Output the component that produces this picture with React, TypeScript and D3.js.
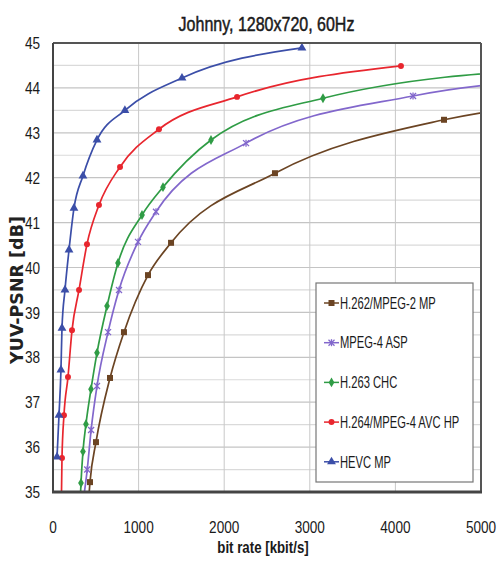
import React from 'react'
import * as d3 from 'd3'

// values (bit rate in kbit/s, PSNR in dB)
const rateMPEG2 = [415, 432, 502, 666, 829, 1110, 1379, 2593, 4568, 6500]
const psnrMPEG2 = [34.8, 35.22, 36.11, 37.54, 38.56, 39.83, 40.55, 42.1, 43.29, 43.75]

const rateMPEG4 = [360, 400, 445, 514, 643, 771, 993, 1203, 2255, 4206, 6000]
const psnrMPEG4 = [34.9, 35.5, 36.38, 37.36, 38.56, 39.5, 40.57, 41.24, 42.77, 43.82, 44.22]

const rateH263 = [318, 327, 350, 385, 444, 514, 631, 759, 1040, 1285, 1846, 3154, 6000]
const psnrH263 = [34.8, 35.2, 35.9, 36.51, 37.29, 38.1, 39.14, 40.1, 41.17, 41.79, 42.84, 43.77, 44.45]

const rateH264 = [98, 105, 128, 175, 222, 304, 397, 537, 783, 1238, 2150, 4065]
const psnrH264 = [34.8, 35.76, 36.71, 37.56, 38.6, 39.5, 40.52, 41.39, 42.24, 43.08, 43.8, 44.49]

const rateHEVC = [47, 70, 93, 105, 140, 187, 245, 350, 514, 840, 1507, 2908]
const psnrHEVC = [35.78, 36.71, 37.72, 38.65, 39.5, 40.39, 41.32, 42.04, 42.84, 43.5, 44.22, 44.89]

const seriesNames = ['H.262/MPEG-2 MP', 'MPEG-4 ASP', 'H.263 CHC', 'H.264/MPEG-4 AVC HP', 'HEVC MP']
const xTicks = [0, 1000, 2000, 3000, 4000, 5000]
const yTicks = [35, 36, 37, 38, 39, 40, 41, 42, 43, 44, 45]

const W = 497
const H = 575
const margin = { top: 43, right: 16, bottom: 83, left: 53 }

const series = [
  { name: seriesNames[0], rate: rateMPEG2, psnr: psnrMPEG2, color: '#6b4423', marker: 'square' },
  { name: seriesNames[1], rate: rateMPEG4, psnr: psnrMPEG4, color: '#8267cc', marker: 'cross' },
  { name: seriesNames[2], rate: rateH263, psnr: psnrH263, color: '#2f9c45', marker: 'diamond' },
  { name: seriesNames[3], rate: rateH264, psnr: psnrH264, color: '#e8262e', marker: 'circle' },
  { name: seriesNames[4], rate: rateHEVC, psnr: psnrHEVC, color: '#3b4ea8', marker: 'triangle' }
]

const FONT = '"Liberation Sans", Arial, sans-serif'

// condensed text: the reference uses a narrow font, so squeeze horizontally
const NText = ({ x, y, sx, size, anchor = 'start', weight = 'normal', dy, stroke, children }: any) => (
  <text
    transform={`translate(${x},${y}) scale(${sx},1)`}
    textAnchor={anchor}
    fontFamily={FONT}
    fontSize={size}
    fontWeight={weight}
    dy={dy}
    fill="#1a1a1a"
    stroke={stroke ? '#1a1a1a' : undefined}
    strokeWidth={stroke || undefined}
  >
    {children}
  </text>
)

const Marker = ({ type, x, y, color }: { type: string; x: number; y: number; color: string }) => {
  if (type === 'cross') {
    return (
      <g stroke={color} strokeWidth={1.3}>
        <line x1={x - 3} y1={y - 3} x2={x + 3} y2={y + 3} />
        <line x1={x - 3} y1={y + 3} x2={x + 3} y2={y - 3} />
        <line x1={x} y1={y - 3.5} x2={x} y2={y + 3.5} />
      </g>
    )
  }
  const sym = {
    square: d3.symbolSquare,
    diamond: d3.symbolDiamond,
    circle: d3.symbolCircle,
    triangle: d3.symbolTriangle
  }[type] || d3.symbolCircle
  const size = type === 'square' ? 36 : type === 'triangle' ? 34 : 28
  return <path d={d3.symbol(sym, size)() || ''} transform={`translate(${x},${y})`} fill={color} />
}

export default function App() {
  const iw = W - margin.left - margin.right
  const ih = H - margin.top - margin.bottom

  const x = d3.scaleLinear().domain([0, 5000]).range([0, iw])
  const y = d3.scaleLinear().domain([35, 45]).range([ih, 0])

  const line = d3
    .line<[number, number]>()
    .x(d => x(d[0]))
    .y(d => y(d[1]))
    .curve(d3.curveMonotoneX)

  const halfSteps = d3.range(35, 45.01, 0.5)

  return (
    <svg width={W} height={H} style={{ position: 'absolute', left: 0, top: 0, background: '#fff' }}>
      <defs>
        <clipPath id="plot-clip">
          <rect x={0} y={0} width={iw} height={ih} />
        </clipPath>
      </defs>

      <NText x={W / 2 + 18} y={31} sx={0.8} size={20} anchor="middle" stroke={0.5}>
        Johnny, 1280x720, 60Hz
      </NText>

      <g transform={`translate(${margin.left},${margin.top})`}>
        {/* grid */}
        {halfSteps.map(v => (
          <line key={'h' + v} x1={0} x2={iw} y1={y(v)} y2={y(v)} stroke={Number.isInteger(v) ? '#c4c4c4' : '#dadada'} strokeWidth={1.2} />
        ))}
        {xTicks.map(v => (
          <line key={'v' + v} x1={x(v)} x2={x(v)} y1={0} y2={ih} stroke="#c8c8c8" strokeWidth={1} />
        ))}

        {/* curves */}
        <g clipPath="url(#plot-clip)">
          {series.map(s => {
            const pts = s.rate.map((r, i) => [r, s.psnr[i]] as [number, number])
            return (
              <g key={s.name}>
                <path d={line(pts) || ''} fill="none" stroke={s.color} strokeWidth={1.7} />
                {pts
                  .filter(p => p[1] >= 35 && p[0] <= 5000)
                  .map((p, i) => (
                    <Marker key={i} type={s.marker} x={x(p[0])} y={y(p[1])} color={s.color} />
                  ))}
              </g>
            )
          })}
        </g>

        {/* frame */}
        <line x1={0} x2={iw} y1={0} y2={0} stroke="#555" strokeWidth={2} />
        <line x1={iw} x2={iw} y1={0} y2={ih} stroke="#555" strokeWidth={2} />
        <line x1={0} x2={0} y1={0} y2={ih} stroke="#444" strokeWidth={2} />
        <line x1={-1} x2={iw + 1} y1={ih} y2={ih} stroke="#444" strokeWidth={3} />

        {/* y ticks */}
        {yTicks.map(v => (
          <NText key={'yt' + v} x={-13} y={y(v)} dy="0.36em" sx={0.8} size={17} anchor="end">
            {v}
          </NText>
        ))}
        {/* x ticks */}
        {xTicks.map(v => (
          <NText key={'xt' + v} x={x(v)} y={ih + 41} sx={0.8} size={17} anchor="middle">
            {v}
          </NText>
        ))}

        {/* legend */}
        <g transform={`translate(${iw - 165},${ih - 209})`}>
          <rect x={0} y={0} width={157} height={199} fill="#fff" stroke="#777" strokeWidth={1.2} />
          {series.map((s, i) => {
            const cy = 20 + i * 39.7
            return (
              <g key={s.name}>
                <line x1={8} x2={23} y1={cy} y2={cy} stroke={s.color} strokeWidth={1.5} />
                <Marker type={s.marker} x={15.5} y={cy} color={s.color} />
                <NText x={24} y={cy} dy="0.36em" sx={0.7} size={16}>
                  {s.name}
                </NText>
              </g>
            )
          })}
        </g>
      </g>

      <NText x={263} y={553} sx={0.83} size={16} weight="bold" anchor="middle">
        bit rate [kbit/s]
      </NText>
      <text
        transform={`translate(23,290) rotate(-90)`}
        textAnchor="middle"
        fontFamily='"DejaVu Sans", sans-serif'
        fontWeight="bold"
        fontSize={17.5}
        fill="#222"
      >
        YUV-PSNR [dB]
      </text>
    </svg>
  )
}
